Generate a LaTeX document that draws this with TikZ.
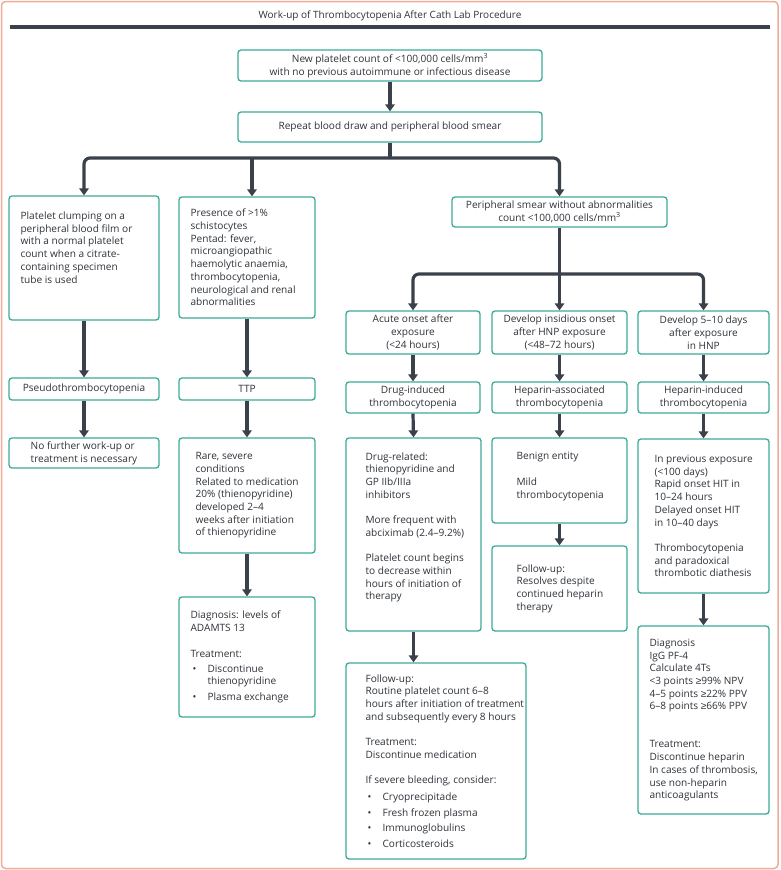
\documentclass[tikz,border=0pt]{standalone}
\usepackage{fontspec}
\setmainfont{Open Sans}
\newfontfamily\symf{Liberation Sans}
\usetikzlibrary{arrows.meta}
\definecolor{tealc}{RGB}{58,170,150}
\definecolor{darkc}{RGB}{59,65,74}
\definecolor{salmonc}{RGB}{240,172,152}
\definecolor{txtc}{RGB}{45,50,56}
\tikzset{
 box/.style={draw=tealc, line width=1.3pt, rounded corners=3pt, inner sep=0pt},
 txt/.style={text=txtc, font=\fontsize{10.1pt}{12.7pt}\selectfont, inner sep=0pt},
 arr/.style={draw=darkc, line width=3.2pt, -{Triangle[width=9.5pt,length=7pt]}},
 ln/.style={draw=darkc, line width=3.2pt},
}
\newcommand\bul{\hspace*{2pt}\makebox[15pt][l]{•}}
\newcommand\bulc{\hspace*{17pt}}
\newcommand\myge{{\symf ≥}}
% centered box: name, x1,y1,x2,y2, align, text
\newcommand\cbox[7]{%
  \node[box, minimum width={#4-#2}, minimum height={#5-#3}] (#1) at ({(#2+#4)/2},{(#3+#5)/2}) {};
  \node[txt, align=#6] (#1t) at (#1.center) {#7};}
% left box: name, x1,y1,x2,y2, xpad, yshift, text
\newcommand\lbox[8]{%
  \node[box, minimum width={#4-#2}, minimum height={#5-#3}] (#1) at ({(#2+#4)/2},{(#3+#5)/2}) {};
  \node[txt, align=left, anchor=west] (#1t) at ([xshift=#6,yshift=#7]#1.west) {#8};}
\begin{document}
\begin{tikzpicture}[x=1pt,y=-1pt]
\useasboundingbox (0,0) rectangle (780,870);
\draw[salmonc, line width=1.5pt, rounded corners=4pt] (1.5,1.5) rectangle (778,868.5);
\node[txt, font=\fontsize{10pt}{11pt}\selectfont] (title) at (390,16) {Work-up of Thrombocytopenia After Cath Lab Procedure};
\draw[darkc, line width=3.5pt] (10,27) -- (770,27);

\cbox{b1}{238}{50}{542}{81}{center}{New platelet count of <100,000 cells/mm\textsuperscript{3}\\with no previous autoimmune or infectious disease}
\cbox{b2}{238}{112}{542}{142}{center}{Repeat blood draw and peripheral blood smear}

\lbox{p1}{9}{196}{159}{320}{12pt}{10.5pt}{Platelet clumping on a\\peripheral blood film or\\with a normal platelet\\count when a citrate-\\containing specimen\\tube is used}
\lbox{p2}{179}{197}{315}{318}{12pt}{0pt}{Presence of >1\%\\schistocytes\\Pentad: fever,\\microangiopathic\\haemolytic anaemia,\\thrombocytopenia,\\neurological and renal\\abnormalities}
\cbox{q1}{9}{378}{159}{400}{center}{Pseudothrombocytopenia}
\cbox{q2}{179}{378}{315}{400}{center}{TTP}
\cbox{r1}{9}{438}{159}{468}{left}{No further work-up or\\treatment is necessary}
\lbox{r2}{179}{438}{315}{553}{17pt}{0pt}{Rare, severe\\conditions\\Related to medication\\20\% (thienopyridine)\\developed 2–4\\weeks after initiation\\of thienopyridine}
\lbox{s2}{179}{597}{315}{717}{12pt}{0pt}{Diagnosis: levels of\\ADAMTS 13\\[12.7pt]Treatment:\\[2.3pt]\bul Discontinue\\\bulc thienopyridine\\[3pt]\bul Plasma exchange}

\cbox{ps}{452}{197}{667}{227}{center}{Peripheral smear without abnormalities\\count <100,000 cells/mm\textsuperscript{3}}
\cbox{a1}{346}{311}{480}{354}{center}{Acute onset after\\exposure\\(<24 hours)}
\cbox{a2}{492}{311}{627}{354}{center}{Develop insidious onset\\after HNP exposure\\(<48–72 hours)}
\cbox{a3}{638}{311}{769}{354}{center}{Develop 5–10 days\\after exposure\\in HNP}
\cbox{d1}{346}{382}{480}{413}{center}{Drug-induced\\thrombocytopenia}
\cbox{d2}{492}{382}{627}{413}{center}{Heparin-associated\\thrombocytopenia}
\cbox{d3}{638}{382}{769}{413}{center}{Heparin-induced\\thrombocytopenia}
\lbox{e1}{346}{438}{481}{631}{20pt}{7pt}{Drug-related:\\thienopyridine and\\GP IIb/IIIa\\inhibitors\\[12.7pt]More frequent with\\abciximab (2.4–9.2\%)\\[12.7pt]Platelet count begins\\to decrease within\\hours of initiation of\\therapy}
\lbox{e2}{492}{438}{627}{523}{25pt}{4pt}{Benign entity\\[12.7pt]Mild\\thrombocytopenia}
\lbox{e3}{638}{439}{769}{593}{17pt}{0pt}{In previous exposure\\(<100 days)\\Rapid onset HIT in\\10–24 hours\\Delayed onset HIT\\in 10–40 days\\[12.7pt]Thrombocytopenia\\and paradoxical\\thrombotic diathesis}
\lbox{f1}{346}{663}{526}{859}{20pt}{0pt}{Follow-up:\\Routine platelet count 6–8\\hours after initiation of treatment\\and subsequently every 8 hours\\[12.7pt]Treatment:\\Discontinue medication\\[12.7pt]If severe bleeding, consider:\\[4pt]\bul Cryoprecipitade\\[3pt]\bul Fresh frozen plasma\\[3pt]\bul Immunoglobulins\\[3pt]\bul Corticosteroids}
\lbox{f2}{492}{546}{627}{631}{25pt}{0pt}{Follow-up:\\Resolves despite\\continued heparin\\therapy}
\lbox{f3}{638}{626}{769}{814}{12pt}{0pt}{Diagnosis\\IgG PF-4\\Calculate 4Ts\\<3 points \myge99\% NPV\\4–5 points \myge22\% PPV\\6–8 points \myge66\% PPV\\[25.4pt]Treatment:\\Discontinue heparin\\In cases of thrombosis,\\use non-heparin\\anticoagulants}

% connectors
\draw[arr] (b1.south) -- (b2.north);
\coordinate (j1) at (390,158);
\draw[ln] (b2.south) -- (j1);
\draw[arr, rounded corners=6pt] (j1) -| (p1.north);
\draw[arr, rounded corners=6pt] (j1) -| (ps.north);
\draw[arr] ([xshift=5pt]j1 -| p2.north) -- ([xshift=5pt]p2.north);
\draw[arr] (p1.south) -- (q1.north);
\draw[arr] (q1.south) -- (r1.north);
\draw[arr] (p2.south) -- (q2.north);
\draw[arr] (q2.south) -- (r2.north);
\draw[arr] (r2.south) -- (s2.north);

\coordinate (j2) at (559.5,274);
\draw[ln] (ps.south) -- (j2);
\draw[arr, rounded corners=6pt] (j2) -| (a1.north);
\draw[arr, rounded corners=6pt] (j2) -| (a3.north);
\draw[arr] (j2) -- (a2.north);
\draw[arr] (a1.south) -- (d1.north);
\draw[arr] (a2.south) -- (d2.north);
\draw[arr] (a3.south) -- (d3.north);
\draw[arr] (d1.south) -- (e1.north);
\draw[arr] (d2.south) -- (e2.north);
\draw[arr] (d3.south) -- (e3.north);
\draw[arr] (e1.south) -- (e1.south |- f1.north);
\draw[arr] (e2.south) -- (f2.north);
\draw[arr] (e3.south) -- (f3.north);
\end{tikzpicture}
\end{document}
